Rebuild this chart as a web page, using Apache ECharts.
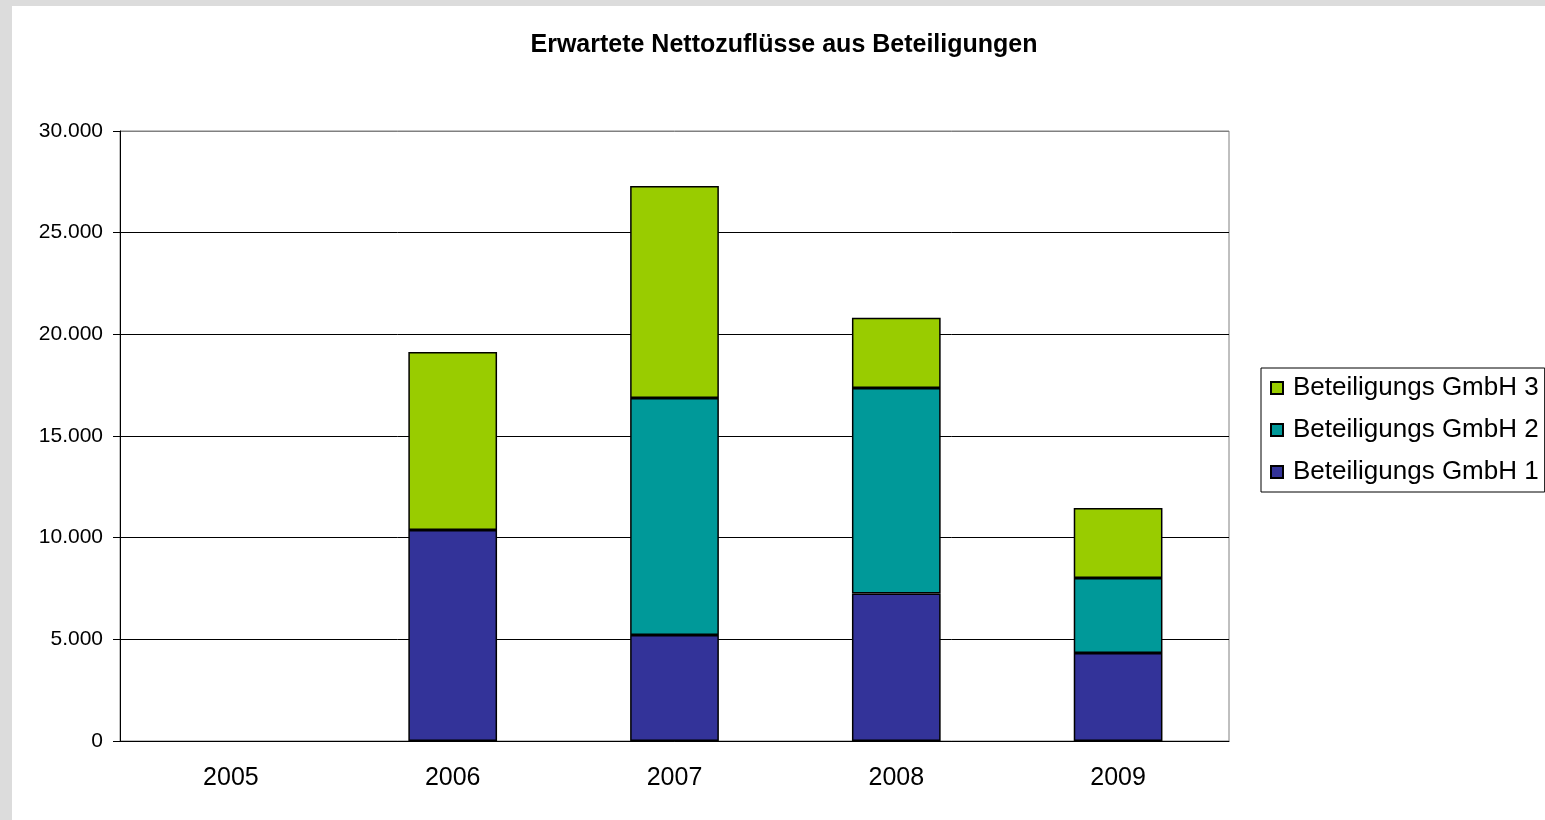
<!DOCTYPE html>
<html>
<head>
<meta charset="utf-8">
<script src="https://cdn.jsdelivr.net/npm/echarts@6/dist/echarts.min.js"></script>
<style>
  html, body { margin: 0; padding: 0; background: #dcdcdc; }
  #chart { position: absolute; left: 12px; top: 6px; width: 1533px; height: 814px; background: #ffffff; }
</style>
</head>
<body>
<div id="chart"></div>
<script>
// Daten (null = kein Balken)
const years = ['2005', '2006', '2007', '2008', '2009']
const gmbh1 = [null, 10380, 5210, 7260, 4330]
const gmbh2 = [null, null, 11660, 10100, 3690]
const gmbh3 = [null, 8750, 10430, 3450, 3440]

const chart = echarts.init(document.getElementById('chart'))

// Tausendertrennzeichen wie in Excel (30.000)
const fmt = v => String(v).replace(/\B(?=(\d{3})+(?!\d))/g, '.')

const barStyle = color => ({
  color: color,
  borderColor: '#000000',
  borderWidth: 1.5
})

const options = {
  animation: false,
  textStyle: { fontFamily: 'Liberation Sans, Arial, sans-serif' },
  title: {
    text: 'Erwartete Nettozuflüsse aus Beteiligungen',
    left: 767,
    textAlign: 'center',
    top: 22,
    textStyle: { fontSize: 25, fontWeight: 'bold', color: '#000' }
  },
  legend: {
    orient: 'vertical',
    left: 1249,
    top: 362,
    padding: [7, 6, 7, 9],
    itemGap: 16,
    itemWidth: 12,
    itemHeight: 12,
    icon: 'rect',
    borderColor: '#000',
    borderWidth: 1,
    data: ['Beteiligungs GmbH 3', 'Beteiligungs GmbH 2', 'Beteiligungs GmbH 1'],
    textStyle: { fontSize: 26, color: '#000', padding: [0, 0, 0, 5] }
  },
  grid: {
    left: 108,
    top: 125,
    right: 316,
    bottom: 79,
    show: true,
    borderColor: '#808080',
    borderWidth: 1
  },
  xAxis: {
    type: 'category',
    data: years,
    boundaryGap: true,
    axisLine: { lineStyle: { color: '#000', width: 1 } },
    axisTick: { length: 7, lineStyle: { color: '#000' } },
    axisLabel: { fontSize: 25, color: '#000', margin: 25 }
  },
  yAxis: {
    type: 'value',
    min: 0,
    max: 30000,
    interval: 5000,
    axisLine: { show: true, lineStyle: { color: '#000', width: 1 } },
    axisTick: { show: true, length: 7, lineStyle: { color: '#000' } },
    axisLabel: { fontSize: 21, color: '#000', margin: 17, formatter: fmt },
    splitLine: {
      lineStyle: { color: ['#000', '#000', '#000', '#000', '#000', '#000', '#808080'], width: 1 }
    }
  },
  series: [
    {
      name: 'Beteiligungs GmbH 1',
      type: 'bar',
      stack: 'total',
      barWidth: '40%',
      data: gmbh1,
      itemStyle: barStyle('#333399')
    },
    {
      name: 'Beteiligungs GmbH 2',
      type: 'bar',
      stack: 'total',
      barWidth: '40%',
      data: gmbh2,
      itemStyle: barStyle('#009999')
    },
    {
      name: 'Beteiligungs GmbH 3',
      type: 'bar',
      stack: 'total',
      barWidth: '40%',
      data: gmbh3,
      itemStyle: barStyle('#99cc00')
    }
  ]
}

chart.setOption(options)

window.addEventListener('resize', () => {
  chart.resize()
})
</script>
</body>
</html>
